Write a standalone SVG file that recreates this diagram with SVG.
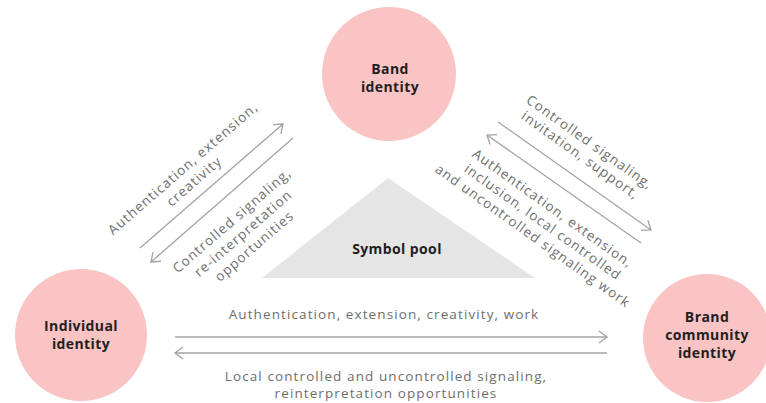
<svg xmlns="http://www.w3.org/2000/svg" width="766" height="403" viewBox="0 0 766 403">
  <style>
    .circle { fill: #fac4c5; }
    .pool { fill: #e5e5e5; }
    .title { font-family: "Open Sans", "Liberation Sans", sans-serif; font-weight: 700; font-size: 14px; letter-spacing: 0.4px; fill: #1f1f1f; text-anchor: middle; }
    .label { font-family: "Open Sans", "Liberation Sans", sans-serif; font-size: 13.5px; letter-spacing: 1.1px; fill: #6e6e6e; text-anchor: middle; }
    .flow { fill: none; stroke: #a3a3a3; stroke-width: 1.3; marker-end: url(#chevron); }
  </style>
  <defs>
    <marker id="chevron" markerUnits="userSpaceOnUse" markerWidth="12" markerHeight="16" refX="9" refY="7" orient="auto">
      <path d="M1,1 L9,7 L1,13" fill="none" stroke="#a3a3a3" stroke-width="1.3"/>
    </marker>
  </defs>
  <rect width="766" height="403" fill="#ffffff"/>

  <!-- shared symbol pool -->
  <g id="symbol-pool">
    <polygon class="pool" points="388,178 535,278 262,278"/>
    <text class="title" x="397" y="254">Symbol pool</text>
  </g>

  <!-- identity nodes -->
  <g id="band-identity">
    <circle class="circle" cx="389" cy="74" r="67"/>
    <text class="title" x="390" y="74">Band</text>
    <text class="title" x="390" y="92">identity</text>
  </g>
  <g id="individual-identity">
    <circle class="circle" cx="81" cy="335" r="66"/>
    <text class="title" x="81" y="331">Individual</text>
    <text class="title" x="81" y="349">identity</text>
  </g>
  <g id="brand-community-identity">
    <circle class="circle" cx="707" cy="338" r="64"/>
    <text class="title" x="707" y="322">Brand</text>
    <text class="title" x="707" y="340">community</text>
    <text class="title" x="707" y="358">identity</text>
  </g>

  <!-- exchanges between identities -->
  <g id="connectors">
    <line class="flow" x1="140" y1="248" x2="283" y2="124"/>
    <line class="flow" x1="293" y1="138" x2="151" y2="262"/>
    <line class="flow" x1="498" y1="122" x2="651" y2="230"/>
    <line class="flow" x1="641" y1="243" x2="487" y2="135"/>
    <line class="flow" x1="175" y1="337" x2="607" y2="337"/>
    <line class="flow" x1="607" y1="353" x2="175" y2="353"/>
  </g>

  <g id="connector-labels">
    <g transform="translate(186,172) rotate(-41)">
      <text class="label" x="0" y="0">Authentication, extension,</text>
      <text class="label" x="0" y="17">creativity</text>
    </g>
    <g transform="translate(235,224) rotate(-41)">
      <text class="label" x="0" y="0">Controlled signaling,</text>
      <text class="label" x="0" y="17">re-interpretation</text>
      <text class="label" x="0" y="34">opportunities</text>
    </g>
    <g transform="translate(587,146) rotate(35.5)">
      <text class="label" x="0" y="0">Controlled signaling,</text>
      <text class="label" x="0" y="16">invitation, support,</text>
    </g>
    <g transform="translate(550,212) rotate(35.5)">
      <text class="label" x="0" y="0">Authentication, extension,</text>
      <text class="label" x="0" y="17">inclusion, local controlled</text>
      <text class="label" x="0" y="34">and uncontrolled signaling work</text>
    </g>
    <text class="label" x="384" y="319">Authentication, extension, creativity, work</text>
    <text class="label" x="386" y="381">Local controlled and uncontrolled signaling,</text>
    <text class="label" x="386" y="398">reinterpretation opportunities</text>
  </g>
</svg>
